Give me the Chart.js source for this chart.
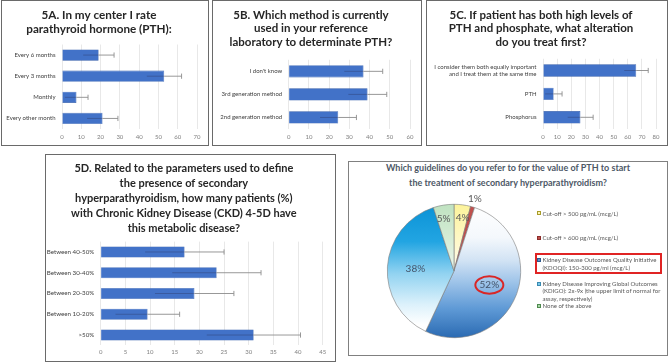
<!DOCTYPE html>
<html><head><meta charset="utf-8">
<script src="https://cdn.jsdelivr.net/npm/chart.js@4.4.1/dist/chart.umd.min.js"></script>
<style>
html,body{margin:0;padding:0;background:#fff;}
body{width:669px;height:363px;position:relative;overflow:hidden;font-family:Lato,'Open Sans',sans-serif;}
canvas{position:absolute;}
.frame{position:absolute;box-sizing:border-box;border:1.5px solid #6a6a6a;pointer-events:none;}
#pieTitle{position:absolute;left:348px;width:320px;top:161px;text-align:center;font-weight:bold;font-size:9px;line-height:14.5px;color:#4d5866;white-space:nowrap;}
.li{position:absolute;white-space:nowrap;font-size:6px;line-height:7.5px;color:#595959;}
.sw{position:absolute;width:4px;height:4px;box-sizing:border-box;border:0.8px solid;}
#hl{position:absolute;left:534.5px;top:253px;width:127px;height:21px;box-sizing:border-box;border:2px solid #e02424;}
</style></head><body>
<div id="pieTitle"></div>
<script>
// ---------- DATA ----------
const titleA = ['5A. In my center I rate', 'parathyroid hormone (PTH):'];
const catsA = ['Every 6 months', 'Every 3 months', 'Monthly', 'Every other month'];
const valsA = [19, 53, 7.5, 21];
const errA = [8, 9, 6, 8];
const maxA = 70, stepA = 10;

const titleB = ['5B. Which method is currently', 'used in your reference', 'laboratory to determinate PTH?'];
const catsB = ["I don't know", '3rd generation method', '2nd generation method'];
const valsB = [37, 39, 24.5];
const errB = [9.5, 9.5, 9];
const maxB = 60, stepB = 10;

const titleC = ['5C. If patient has both high levels of', 'PTH and phosphate, what alteration', 'do you treat first?'];
const catsC = [['I consider them both equally important', 'and I treat them at the same time'], 'PTH', 'Phosphorus'];
const valsC = [66, 7.5, 26.5];
const errC = [8.5, 6, 9];
const maxC = 80, stepC = 10;

const titleD = ['5D. Related to the parameters used to define', 'the presence of secondary', 'hyperparathyroidism, how many patients (%)', 'with Chronic Kidney Disease (CKD) 4-5D have', 'this metabolic disease?'];
const catsD = ['Between 40-50%', 'Between 30-40%', 'Between 20-30%', 'Between 10-20%', '>50%'];
const valsD = [17, 23.5, 19, 9.5, 31];
const errD = [8, 9, 8, 6.5, 9.5];
const maxD = 45, stepD = 5;

const pieTitle = ['Which guidelines do you refer to for the value of PTH to start', 'the treatment of secondary hyperparathyroidism?'];
const pieLegend = [
  ['Cut-off > 500 pg/mL (mcg/L)'],
  ['Cut-off > 600 pg/mL (mcg/L)'],
  ['Kidney Disease Outcomes Quality Initiative', '(KDOQI): 150-300 pg/ml (mcg/L)'],
  ['Kidney Disease Improving Global Outcomes', '(KDIGO): 2x-9x (the upper limit of normal for', 'assay, respectively)'],
  ['None of the above']
];
const pieLabels = pieLegend.map(l => l.join(' '));
const pieVals = [4, 1, 52, 38, 5];
const highlightIndex = 2;

// ---------- HELPERS ----------
function makeCanvas(left, top, w, h, frameCss) {
  const cv = document.createElement('canvas');
  cv.width = w; cv.height = h;
  cv.style.left = left + 'px'; cv.style.top = top + 'px';
  cv.style.width = w + 'px'; cv.style.height = h + 'px';
  document.body.appendChild(cv);
  const fr = document.createElement('div');
  fr.className = 'frame';
  fr.style.left = left + 'px'; fr.style.top = top + 'px';
  fr.style.width = w + 'px'; fr.style.height = h + 'px';
  if (frameCss) fr.style.border = frameCss;
  document.body.appendChild(fr);
  return cv;
}

const errorBarPlugin = {
  id: 'errorBarsCustom',
  afterDatasetsDraw(chart) {
    const ds = chart.data.datasets[0];
    const meta = chart.getDatasetMeta(0);
    const xs = chart.scales.x;
    const c = chart.ctx;
    c.save();
    meta.data.forEach((bar, i) => {
      const v = ds.data[i], e = ds.errors[i];
      const y = bar.y;
      const x1 = xs.getPixelForValue(v - e);
      const xv = xs.getPixelForValue(v);
      const x2 = xs.getPixelForValue(v + e);
      c.lineWidth = 0.9;
      c.strokeStyle = 'rgba(40,40,70,0.35)';
      c.beginPath(); c.moveTo(x1, y); c.lineTo(xv, y); c.stroke();
      c.strokeStyle = '#8c8c8c';
      c.beginPath(); c.moveTo(xv, y); c.lineTo(x2, y); c.stroke();
      c.beginPath(); c.moveTo(x2, y - 2.6); c.lineTo(x2, y + 2.6); c.stroke();
    });
    c.restore();
  }
};

function barChart(cfg) {
  const cv = makeCanvas(cfg.left, cfg.top, cfg.w, cfg.h);
  new Chart(cv, {
    type: 'bar',
    data: {
      labels: cfg.labels,
      datasets: [{
        data: cfg.values, errors: cfg.errors,
        backgroundColor: '#4272c8', borderColor: '#2f5aa8', borderWidth: 0.6,
        categoryPercentage: 1, barPercentage: 0.53
      }]
    },
    plugins: [errorBarPlugin],
    options: {
      indexAxis: 'y', responsive: false, animation: false,
      layout: { padding: { left: 0, right: cfg.padRight, top: 0, bottom: 0 } },
      plugins: {
        legend: { display: false }, tooltip: { enabled: false },
        title: {
          display: true, text: cfg.title, color: '#262626',
          font: { family: 'Lato', weight: 'bold', size: cfg.titleSize, lineHeight: cfg.titleLH / cfg.titleSize },
          padding: { top: cfg.titleTop, bottom: cfg.titleBottom }
        }
      },
      scales: {
        x: {
          min: 0, max: cfg.max,
          ticks: { stepSize: cfg.step, color: '#808080', font: { family: 'Lato', size: 6 }, padding: cfg.xPad, maxRotation: 0 },
          grid: { color: '#e2e2e2', lineWidth: 0.8, drawTicks: false },
          border: { display: false },
          afterFit: s => { s.height = cfg.xH; }
        },
        y: {
          ticks: { color: '#404040', font: { family: 'Lato', size: cfg.catSize || 6 }, padding: 6.5, autoSkip: false },
          grid: { display: false, drawTicks: false },
          border: { display: false },
          afterFit: s => { s.width = cfg.yW; }
        }
      }
    }
  });
}

// ---------- BAR PANELS ----------
barChart({ left: 1, top: 0, w: 208, h: 146, labels: catsA, values: valsA, errors: errA, max: maxA, step: stepA,
  title: titleA, titleSize: 11.7, titleLH: 14, titleTop: 8, titleBottom: 8.5, yW: 61, padRight: 12, xH: 17, xPad: 4.5 });
barChart({ left: 212, top: 0, w: 210, h: 146, labels: catsB, values: valsB, errors: errB, max: maxB, step: stepB,
  title: titleB, titleSize: 11.5, titleLH: 13.8, titleTop: 8, titleBottom: 10.4, yW: 76.7, padRight: 12, xH: 17, xPad: 4.5 });
barChart({ left: 426, top: 0, w: 242, h: 146, labels: catsC, values: valsC, errors: errC, max: maxC, step: stepC,
  title: titleC, titleSize: 11.5, titleLH: 13.8, titleTop: 8, titleBottom: 9.4, yW: 117, padRight: 12, xH: 17, xPad: 4.5 });
barChart({ left: 45, top: 154, w: 291, h: 208, labels: catsD, values: valsD, errors: errD, max: maxD, step: stepD,
  title: titleD, titleSize: 11, titleLH: 15, titleTop: 6.5, titleBottom: 6.1, yW: 55.7, padRight: 13.3, xH: 16.6, xPad: 3, catSize: 6.2 });

// ---------- PIE PANEL ----------
document.getElementById('pieTitle').innerHTML = pieTitle.join('<br>');

const pieStyle = {
  labelFactor: [0.8, 1.12, 0.57, 0.58, 0.8],
  labelColor: ['#595959', '#595959', '#44546a', '#44546a', '#595959'],
  labelShift: [2, 0, 0, 0, -2]
};

function sliceFill(ctx) {
  const ch = ctx.chart, a = ch.chartArea;
  const solid = ['#fbf3a0', '#c0504d', '#9fc3e6', '#5fc0ec', '#cfe8cf'];
  if (!a) return solid[ctx.dataIndex];
  const g = ch.ctx.createLinearGradient(0, a.top, 0, a.bottom);
  switch (ctx.dataIndex) {
    case 0: g.addColorStop(0, '#fcf39a'); g.addColorStop(0.45, '#fffbe6'); g.addColorStop(1, '#ffffff'); return g;
    case 1: return '#c0504d';
    case 2: g.addColorStop(0, '#ffffff'); g.addColorStop(0.25, '#f4f8fc'); g.addColorStop(0.42, '#d2e3f4');
            g.addColorStop(0.58, '#9fc4e9'); g.addColorStop(0.78, '#5f9ad6'); g.addColorStop(1, '#2a6ab2'); return g;
    case 3: g.addColorStop(0, '#0a92d6'); g.addColorStop(0.28, '#22a5e2'); g.addColorStop(0.52, '#92d3f1');
            g.addColorStop(0.75, '#dcf1fb'); g.addColorStop(0.9, '#ffffff'); return g;
    default: g.addColorStop(0, '#bfe2c0'); g.addColorStop(0.5, '#eaf6ea'); g.addColorStop(1, '#ffffff'); return g;
  }
}

const pieLabelPlugin = {
  id: 'pieValueLabels',
  afterDatasetsDraw(chart) {
    const meta = chart.getDatasetMeta(0);
    const vals = chart.data.datasets[0].data;
    const c = chart.ctx;
    c.save();
    c.font = '10px Lato';
    c.textAlign = 'center'; c.textBaseline = 'middle';
    meta.data.forEach((arc, i) => {
      const mid = (arc.startAngle + arc.endAngle) / 2;
      const r = arc.outerRadius * pieStyle.labelFactor[i];
      const x = arc.x + Math.cos(mid) * r + pieStyle.labelShift[i], y = arc.y + Math.sin(mid) * r;
      c.fillStyle = pieStyle.labelColor[i];
      c.fillText(vals[i] + '%', x, y);
      if (i === highlightIndex) {
        c.strokeStyle = '#d92626'; c.lineWidth = 2;
        c.beginPath(); c.ellipse(x, y, 14, 8.7, 0, 0, Math.PI * 2); c.stroke();
      }
    });
    c.restore();
  }
};

const pcv = makeCanvas(348, 161, 320, 195, '1px solid #808080');
new Chart(pcv, {
  type: 'pie',
  data: { labels: pieLabels, datasets: [{ data: pieVals, backgroundColor: sliceFill, borderColor: '#7c7c7c', borderWidth: 0.6 }] },
  plugins: [pieLabelPlugin],
  options: {
    responsive: false, animation: false,
    layout: { padding: { left: 39, top: 43, right: 147, bottom: 18 } },
    plugins: { legend: { display: false }, tooltip: { enabled: false } }
  }
});

// HTML legend for pie
const swatch = [['#fdf6b0', '#a89b2a'], ['#c0504d', '#8c2c2a'], ['#5b8fc9', '#2f5a8c'], ['#79c8ec', '#3a8ab0'], ['#a9d8a9', '#4e8a4e']];
const legendTop = [213.3, 237.5, 260, 283.5, 305.5];
pieLegend.forEach((lines, i) => {
  const sw = document.createElement('div');
  sw.className = 'sw';
  sw.style.left = '537px'; sw.style.top = (legendTop[i] - 2) + 'px';
  sw.style.background = swatch[i][0]; sw.style.borderColor = swatch[i][1];
  document.body.appendChild(sw);
  const t = document.createElement('div');
  t.className = 'li';
  t.style.left = '542.5px'; t.style.top = (legendTop[i] - 3.75) + 'px';
  t.innerHTML = lines.map(s => s.replace(/&/g, '&amp;').replace(/</g, '&lt;').replace(/>/g, '&gt;')).join('<br>');
  document.body.appendChild(t);
});
const hl = document.createElement('div'); hl.id = 'hl'; document.body.appendChild(hl);
</script>
</body></html>
